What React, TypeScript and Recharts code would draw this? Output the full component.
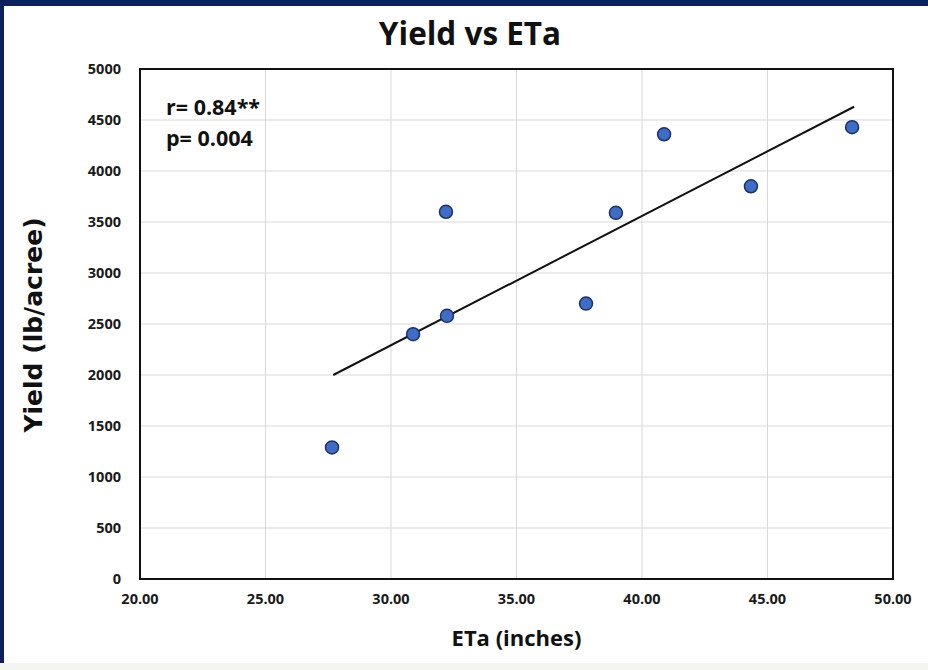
import { ScatterChart, Scatter, XAxis, YAxis, CartesianGrid, ReferenceArea, ReferenceLine } from "recharts";

// ETa (inches) and yield (lb/acre)
const etaValues = [27.65, 30.88, 32.19, 32.23, 37.77, 38.96, 40.88, 44.34, 48.37];
const yieldValues = [1290, 2400, 3600, 2580, 2700, 3590, 4360, 3850, 4430];

const xTicks = [20, 25, 30, 35, 40, 45, 50];
const yTicks = [0, 500, 1000, 1500, 2000, 2500, 3000, 3500, 4000, 4500, 5000];

// linear trendline ends, as drawn in the picture
const trendX = [27.7, 48.45];
const trendY = [2000, 4630];

const points = etaValues.map((x, i) => ({ x, y: yieldValues[i] }));
const trendSegment = trendX.map((x, i) => ({ x, y: trendY[i] }));

const font = "'Open Sans', Lato, sans-serif";

const Dot = (props: any) => {
  const { cx, cy } = props;
  if (cx == null || cy == null) return null;
  return <circle cx={cx} cy={cy} r={6.5} fill="#3f6cc4" stroke="#1c3266" strokeWidth={1.5} />;
};

const App = () => {
  return (
    <div style={{ position: "fixed", left: 0, top: 0, width: 928, height: 670, background: "#fff", fontFamily: font, overflow: "hidden" }}>
      <div style={{ position: "absolute", left: 0, top: 0, width: 928, height: 6, background: "#0b2060" }} />
      <div style={{ position: "absolute", left: 0, top: 0, width: 4, height: 670, background: "#0b2060" }} />
      <div style={{ position: "absolute", left: 0, top: 663, width: 928, height: 7, background: "#f4f5f3" }} />

      <ScatterChart width={928} height={670} margin={{ top: 69, right: 35, bottom: 0, left: 0 }} style={{ position: "absolute", left: 0, top: 0 }}>
        <CartesianGrid stroke="#d9d9d9" strokeWidth={1} />
        <XAxis
          type="number"
          dataKey="x"
          domain={[20, 50]}
          ticks={xTicks}
          tickFormatter={(v: number) => v.toFixed(2)}
          height={91}
          tickSize={0}
          tickMargin={15}
          axisLine={{ stroke: "#111", strokeWidth: 2 }}
          tick={{ fill: "#1a1a1a", fontSize: 14.5, fontWeight: 700, fontFamily: font }}
        />
        <YAxis
          type="number"
          dataKey="y"
          domain={[0, 5000]}
          ticks={yTicks}
          width={140}
          tickSize={0}
          tickMargin={19}
          axisLine={{ stroke: "#111", strokeWidth: 2 }}
          tick={{ fill: "#1a1a1a", fontSize: 14.5, fontWeight: 700, fontFamily: font }}
        />
        <ReferenceArea x1={20} x2={50} y1={0} y2={5000} fill="none" stroke="#111" strokeWidth={2} ifOverflow="visible" />
        <ReferenceLine segment={trendSegment} stroke="#111" strokeWidth={2} ifOverflow="visible" />
        <Scatter data={points} shape={<Dot />} isAnimationActive={false} />
      </ScatterChart>

      <div style={{ position: "absolute", left: 0, width: 940, top: 13, textAlign: "center", fontSize: 31.5, fontWeight: 700, color: "#111", lineHeight: "40px" }}>
        Yield vs ETa
      </div>
      <div style={{ position: "absolute", left: 166, top: 91, fontSize: 21.5, fontWeight: 700, color: "#111", lineHeight: "31px" }}>
        r= 0.84**
        <br />
        p= 0.004
      </div>
      <div style={{ position: "absolute", left: 140, width: 753, top: 620, textAlign: "center", fontSize: 22, fontWeight: 700, color: "#111", lineHeight: "34px" }}>
        ETa (inches)
      </div>
      <div
        style={{
          position: "absolute",
          left: 33,
          top: 325,
          transform: "translate(-50%, -50%) rotate(-90deg)",
          whiteSpace: "nowrap",
          fontSize: 25,
          fontWeight: 700,
          color: "#111",
          fontFamily: "'DejaVu Sans', sans-serif",
        }}
      >
        Yield (lb/acree)
      </div>
    </div>
  );
};

export default App;
